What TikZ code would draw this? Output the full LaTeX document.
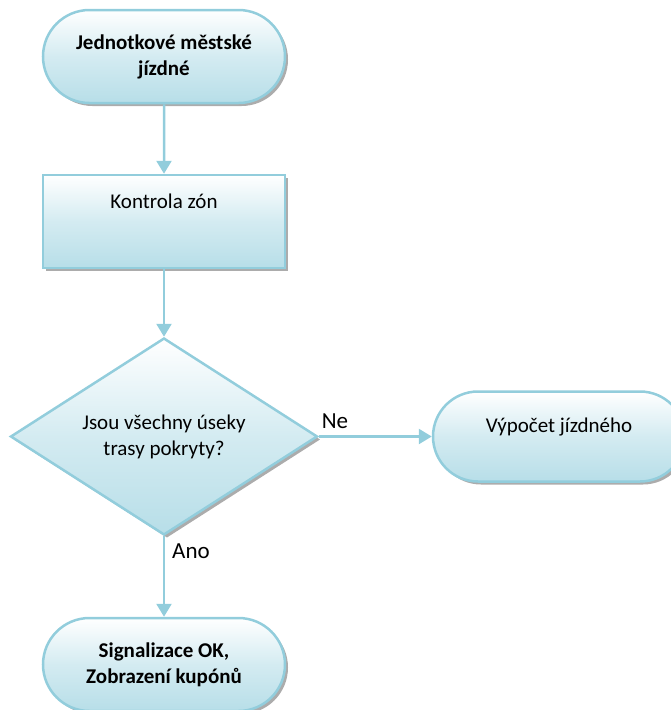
\documentclass[tikz,border=0pt]{standalone}
\usepackage{fontspec}
\setmainfont{Carlito}
\usetikzlibrary{shapes.misc,shapes.geometric,shadows,arrows.meta}
\definecolor{edgeblue}{HTML}{92CDDC}
\definecolor{fillblue}{HTML}{B7DEE8}
\tikzset{
  boxbase/.style={draw=edgeblue, line width=2.5pt, top color=white, bottom color=fillblue,
    middle color=white!40!fillblue,
    drop shadow={shadow xshift=3pt, shadow yshift=-3pt, fill=gray!65, opacity=1},
    inner sep=0pt, align=center, font=\fontsize{21}{26}\selectfont},
  termbox/.style={boxbase, rounded rectangle, minimum width=242pt, minimum height=93pt},
  procbox/.style={boxbase, rectangle, minimum width=242pt, minimum height=93pt},
  decbox/.style={boxbase, diamond, aspect=1.56, minimum width=307pt, minimum height=197pt},
  txt/.style={align=center, inner sep=0pt, font=\fontsize{21}{26}\selectfont},
  lbl/.style={inner sep=0pt, font=\fontsize{23}{27}\selectfont},
  flow/.style={draw=edgeblue, line width=2.5pt, -{Triangle[width=15pt,length=13pt]}}
}
\begin{document}
\begin{tikzpicture}[x=1pt,y=-1pt]
\useasboundingbox (0,0) rectangle (670,710);
\node[termbox, font=\bfseries\fontsize{21}{26}\selectfont] (start) at (164,56.5) {Jednotkové městské\\jízdné};
\node[procbox] (zones) at (164,221.5) {};
\node[txt] (zonestxt) at (164,201) {Kontrola zón};
\node[decbox] (dec) at (164,436.5) {Jsou všechny úseky\\trasy pokryty?};
\node[termbox, minimum width=252pt, minimum height=90pt] (calc) at (559,436.5) {};
\node[txt] (calctxt) at (559,427) {Výpočet jízdného};
\node[termbox, font=\bfseries\fontsize{21}{26}\selectfont] (ok) at (164,664.5) {Signalizace OK,\\Zobrazení kupónů};
\draw[flow] (start) -- (zones);
\draw[flow] (zones) -- (dec);
\draw[flow] (dec.east) -- (calc.west);
\draw[flow] (dec.south) -- (ok.north);
\node[lbl] (ne) at (335,421) {Ne};
\node[lbl] (ano) at (191,551) {Ano};
\end{tikzpicture}
\end{document}
